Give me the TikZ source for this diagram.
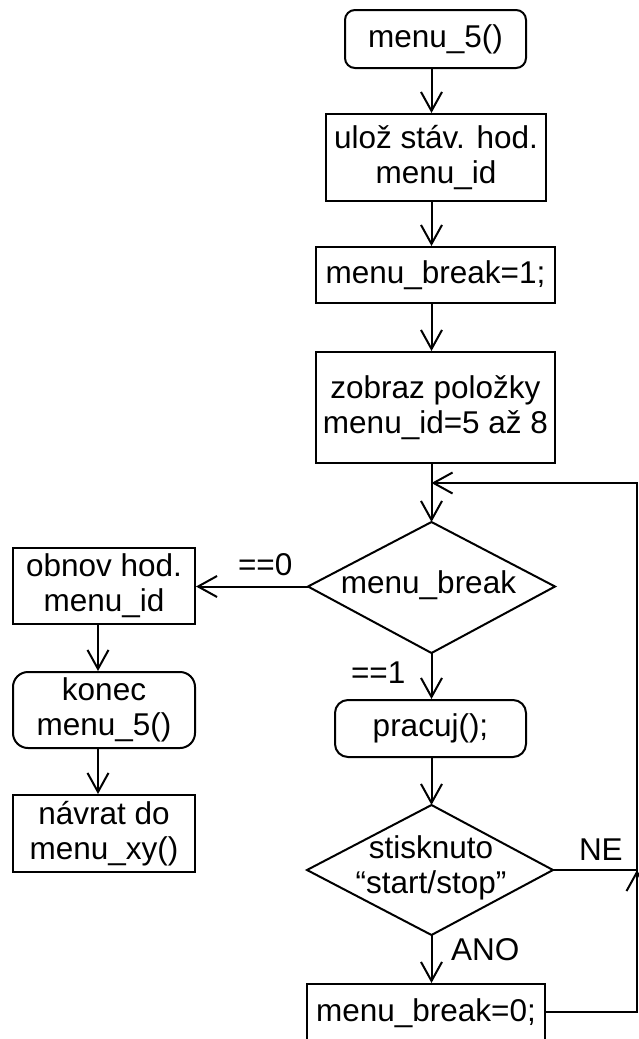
\documentclass[tikz,border=0pt]{standalone}
\usepackage{fontspec}
\setmainfont{Liberation Sans}
\usetikzlibrary{arrows.meta}
\begin{document}
\begin{tikzpicture}[x=1pt, y=-1pt, line width=2pt,
  every node/.style={font=\fontsize{31.5}{35}\selectfont, inner sep=0pt},
  box/.style={draw, rectangle, align=center},
  lbl/.style={anchor=base west},
  arr/.style={-{Straight Barb[length=19pt, width=21pt]}}]
\useasboundingbox (0,0) rectangle (639,1039);

% main column
\node[box, rounded corners=10pt, minimum width=181pt, minimum height=58pt] (start) at (435.5,39) {menu\_5()};
\node[box, minimum width=220pt, minimum height=87pt] (b2) at (436,157.5) {ulož stáv. hod.\\menu\_id};
\node[box, minimum width=239pt, minimum height=56pt] (b3) at (435.5,275) {menu\_break=1;};
\node[box, minimum width=239pt, minimum height=111pt] (b4) at (435.5,407.5) {zobraz položky\\menu\_id=5 až 8};

% first decision
\coordinate (d1n) at (431.5,522);
\coordinate (d1e) at (555,586.5);
\coordinate (d1s) at (431.5,653);
\coordinate (d1w) at (308,586.5);
\draw (d1n) -- (d1e) -- (d1s) -- (d1w) -- cycle;
\node[anchor=base] (d1) at (428.5,593) {menu\_break};

\node[box, rounded corners=13pt, minimum width=191pt, minimum height=57pt] (pracuj) at (430.5,728.5) {pracuj();};

% second decision
\coordinate (d2n) at (431.5,805);
\coordinate (d2e) at (553,870);
\coordinate (d2s) at (431.5,935);
\coordinate (d2w) at (307,870);
\draw (d2n) -- (d2e) -- (d2s) -- (d2w) -- cycle;
\node[align=center] (d2) at (431,868) {stisknuto\\“start/stop”};

\node[box, minimum width=238pt, minimum height=58pt] (b5) at (426,1013) {menu\_break=0;};

% left column
\node[box, minimum width=182pt, minimum height=76pt] (obnov) at (104,586) {obnov hod.\\menu\_id};
\node[box, rounded corners=15pt, minimum width=182pt, minimum height=76pt] (konec) at (104,710) {konec\\menu\_5()};
\node[box, minimum width=182pt, minimum height=77pt] (navrat) at (104,833.5) {návrat do\\menu\_xy()};

% branch labels
\node[lbl] (l0) at (237,575) {==0};
\node[lbl] (l1) at (350,683) {==1};
\node[lbl] (lne) at (578,860) {NE};
\node[lbl] (lano) at (450,960) {ANO};

% connector helpers
\coordinate (spine) at (431.5,0);
\coordinate (lspine) at (98,0);
\coordinate (join) at (431.5,483);
\coordinate (rt) at (637,483);
\coordinate (rb) at (637,1012);
\coordinate (nej) at (637,870);
\coordinate (nejb) at (637,890);

% connectors
\draw[arr] (start.south -| spine) -- (b2.north -| spine);
\draw[arr] (b2.south -| spine) -- (b3.north -| spine);
\draw[arr] (b3.south -| spine) -- (b4.north -| spine);
\draw[arr] (b4.south -| spine) -- (d1n);
\draw[arr] (d1w) -- (obnov.east |- d1w);
\draw[arr] (obnov.south -| lspine) -- (konec.north -| lspine);
\draw[arr] (konec.south -| lspine) -- (navrat.north -| lspine);
\draw[arr] (d1s) -- (pracuj.north -| d1s);
\draw[arr] (pracuj.south -| spine) -- (d2n);
\draw[arr] (d2s) -- (b5.north -| d2s);
\draw[arr] (b5.east |- rb) -- (rb) -- (rt) -- (join);
\draw (d2e) -- (nej);
\draw[arr] (nejb) -- (nej);
\end{tikzpicture}
\end{document}
